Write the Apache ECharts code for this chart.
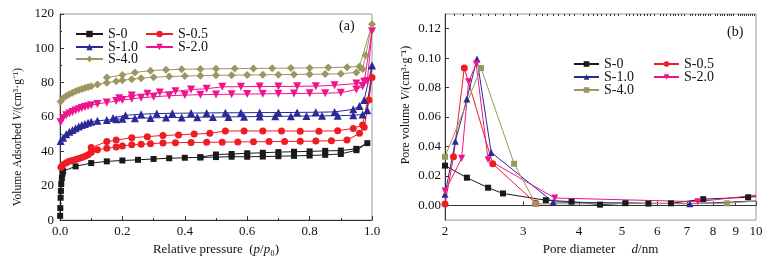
<!DOCTYPE html>
<html>
<head>
<meta charset="utf-8">
<script src="https://cdn.jsdelivr.net/npm/echarts@6/dist/echarts.min.js"></script>
<style>
html,body{margin:0;padding:0;background:#fff}
#chart{width:775px;height:261px}
</style>
</head>
<body>
<div id="chart"></div>
<script>
// (a) N2 isotherms: relative pressure -> volume adsorbed (adsorption then desorption branch)
var names = ['S-0', 'S-0.5', 'S-1.0', 'S-2.0', 'S-4.0']
var colors = ['#1a1a1a', '#f01c24', '#2a2a96', '#f0148c', '#9c9660']

var pS0 = [0.0005,0.001,0.002,0.003,0.004,0.006,0.008,0.01,0.05,0.1,0.15,0.2,0.25,0.3,0.35,0.4,0.45,0.5,0.55,0.6,0.65,0.7,0.75,0.8,0.85,0.9,0.95,0.985,
  0.95,0.9,0.85,0.8,0.75,0.7,0.65,0.6,0.55,0.5,0.45]
var vS0 = [2.5,7,13,17,21,24.5,27,28.5,31.3,33.2,34.2,34.7,35.1,35.6,36,36.3,36.5,36.7,36.9,36.9,37,37.2,37.4,37.6,38,38.5,40.7,44.8,
  41.5,40.5,40.3,40,39.8,39.6,39.2,38.9,38.5,38.2,36.6]

var pS05 = [0.003,0.01,0.02,0.03,0.04,0.05,0.06,0.07,0.08,0.09,0.1,0.12,0.15,0.18,0.2,0.23,0.26,0.29,0.33,0.37,0.42,0.47,0.52,0.57,0.62,0.67,0.72,0.77,0.82,0.87,0.92,0.96,0.975,0.99,1.0,
  0.97,0.94,0.89,0.83,0.77,0.71,0.65,0.59,0.53,0.48,0.43,0.38,0.33,0.28,0.23,0.18,0.15,0.1]
var vS05 = [30.7,32.2,33.4,34.2,34.7,35.3,35.9,36.5,37.2,38,39.3,40.9,41.8,42.6,43.2,43.8,44.1,44.5,44.9,45.1,45.2,45.3,45.4,45.5,45.6,45.7,45.8,45.9,46,46.2,46.6,50.5,54,70,83,
  55.3,53.4,52,51.8,51.8,51.9,51.9,51.9,51.9,50.5,50.1,49.6,49.3,48.6,48,46.6,45.7,42.2]

var pS10 = [0.002,0.01,0.02,0.03,0.04,0.05,0.06,0.07,0.08,0.09,0.1,0.12,0.15,0.18,0.2,0.24,0.29,0.34,0.39,0.44,0.49,0.54,0.59,0.64,0.69,0.74,0.79,0.84,0.89,0.94,0.97,0.985,1.0,
  0.975,0.96,0.94,0.88,0.82,0.76,0.7,0.64,0.58,0.53,0.47,0.42,0.36,0.31,0.26,0.21,0.17]
var vS10 = [46,48,50,51.5,52.5,53.5,54.5,55.3,56,56.7,57.3,57.8,58.3,58.7,59,59.3,59.5,59.7,59.8,59.9,60,60.1,60.2,60.3,60.4,60.5,60.6,60.7,60.8,61,61.5,64,90,
  70,66.5,64.5,63,62.8,62.7,62.6,62.6,62.5,62.5,62.4,62.3,62.2,62,61.7,61,59.5]

var pS20 = [0.002,0.01,0.02,0.03,0.04,0.05,0.06,0.07,0.08,0.09,0.1,0.12,0.15,0.18,0.2,0.23,0.26,0.3,0.35,0.4,0.45,0.5,0.55,0.6,0.65,0.7,0.75,0.8,0.85,0.9,0.95,0.97,0.985,1.0,
  0.975,0.95,0.88,0.82,0.76,0.7,0.64,0.58,0.52,0.47,0.42,0.37,0.32,0.28,0.23,0.19]
var vS20 = [57,59.5,61,62,63,63.8,64.5,65.2,65.8,66.3,66.8,67.6,68.5,69.3,70,70.6,71.2,71.8,72.4,72.8,73,73.2,73.3,73.4,73.5,73.6,73.7,73.8,73.9,74.2,76,78,81,110,
  80.5,79.5,78.5,78,77.9,77.8,77.8,77.7,77.6,76.5,76,75,74.3,73.5,72.5,71]

var pS40 = [0.002,0.01,0.02,0.03,0.04,0.05,0.06,0.07,0.08,0.09,0.1,0.12,0.15,0.18,0.2,0.23,0.26,0.3,0.35,0.4,0.45,0.5,0.55,0.6,0.65,0.7,0.75,0.8,0.85,0.9,0.95,0.97,0.98,1.0,
  0.96,0.92,0.86,0.8,0.74,0.68,0.62,0.56,0.5,0.45,0.39,0.34,0.29,0.24,0.2,0.15]
var vS40 = [69,71,72.3,73.3,74.2,75,75.7,76.3,76.9,77.5,78,79,80,80.8,81.4,82,82.6,83.2,83.6,83.9,84.1,84.3,84.4,84.5,84.6,84.7,84.8,84.9,85,85.2,86,88,96,114,
  89.5,89,88.8,88.6,88.5,88.4,88.3,88.2,88.1,88,87.8,87.5,87,86,84.5,83]

// (b) pore size distribution: pore diameter (nm) -> pore volume
var dS0 = [2.0,2.24,2.5,2.7,3.37,3.85,4.46,5.09,5.73,6.44,7.61,9.6,10]
var wS0 = [0.027,0.0188,0.012,0.0081,0.0035,0.0025,0.0005,0.0015,0.0012,0.0014,0.0042,0.0055,0.006]
var dS05 = [2.0,2.09,2.21,2.56,3.2]
var wS05 = [0.001,0.033,0.0933,0.0283,0.0015]
var dS10 = [2.0,2.11,2.24,2.36,2.54,3.5,7.1,10]
var wS10 = [0.0075,0.0436,0.0723,0.0995,0.036,0.0023,0.0011,0.003]
var dS20 = [2.0,2.18,2.26,2.35,2.5,3.53,7.4,10]
var wS20 = [0.0097,0.032,0.084,0.096,0.031,0.005,0.0025,0.007]
var dS40 = [2.0,2.41,2.86,3.2,8.6,10]
var wS40 = [0.033,0.0933,0.0283,0.001,0.0014,0.003]

var xTicksB = [2,3,4,5,6,7,8,9,10]
var yTicksB = [0,0.02,0.04,0.06,0.08,0.10,0.12]

var isoP = [pS0, pS05, pS10, pS20, pS40]
var isoV = [vS0, vS05, vS10, vS20, vS40]
var psdD = [dS0, dS05, dS10, dS20, dS40]
var psdW = [wS0, wS05, wS10, wS20, wS40]
var symA = [['rect',6,0],['circle',7,0],['triangle',8,0],['triangle',8,180],['diamond',8,0]]
var symB = [['rect',6,0],['circle',7,0],['triangle',7,0],['triangle',7,180],['rect',6,0]]

var minorB = []
for (var a = 2; a < 10; a++) {
  for (var b = 1; b < 10; b++) minorB.push(Math.log10(a + b / 10))
}

var font = 'Liberation Serif'
var series = []
names.forEach(function (n, i) {
  series.push({
    name: n, type: 'line', xAxisIndex: 0, yAxisIndex: 0,
    symbol: symA[i][0], symbolSize: symA[i][1], symbolRotate: symA[i][2],
    lineStyle: {width: 1, color: colors[i]}, itemStyle: {color: colors[i]},
    data: isoP[i].map(function (x, k) { return [x, isoV[i][k]] })
  })
  series.push({
    name: n + ' ', type: 'line', xAxisIndex: 1, yAxisIndex: 1,
    symbol: symB[i][0], symbolSize: symB[i][1], symbolRotate: symB[i][2],
    lineStyle: {width: 1, color: colors[i]}, itemStyle: {color: colors[i]},
    // the last point sits on the right frame, only the line runs to it
    data: psdD[i].map(function (x, k) {
      var it = {value: [Math.log10(x), psdW[i][k]]}
      if (x >= 10) it.symbol = 'none'
      return it
    })
  })
})

var legA = [[70,22],[140,22],[70,35],[140,35],[70,47]]
var legB = [[568,52],[648,52],[568,65],[648,65],[568,78]]
var legends = []
names.forEach(function (n, i) {
  legends.push({data: [n], left: legA[i][0], top: legA[i][1], itemWidth: 27, itemHeight: 8, itemGap: 4,
    selectedMode: false, textStyle: {fontFamily: font, fontSize: 14, color: '#111'}})
  legends.push({data: [n + ' '], left: legB[i][0], top: legB[i][1], itemWidth: 25, itemHeight: 7,
    selectedMode: false, textStyle: {fontFamily: font, fontSize: 14, color: '#111'}})
})

var axisLine = {lineStyle: {color: '#333', width: 1}}
var lblStyle = {fontFamily: font, fontSize: 13, color: '#111'}
var italic = {fontFamily: font, fontStyle: 'italic'}

var option = {
  animation: false,
  backgroundColor: '#fff',
  grid: [
    {left: 60, top: 14, width: 312, height: 209, show: true, borderColor: '#999', borderWidth: 1},
    {left: 445, top: 14, width: 311, height: 208, show: true, borderColor: '#999', borderWidth: 1}
  ],
  legend: legends,
  xAxis: [
    {type: 'value', gridIndex: 0, min: 0, max: 1, interval: 0.2,
      axisLine: axisLine, splitLine: {show: false},
      axisTick: {inside: true, length: 4, lineStyle: {color: '#333'}},
      minorTick: {show: true, splitNumber: 2, length: 2, lineStyle: {color: '#333'}},
      axisLabel: Object.assign({margin: 5, formatter: function (v) { return v.toFixed(1) }}, lblStyle),
      name: 'Relative pressure  ({i|p}/{i|p}\u2080)', nameLocation: 'middle', nameGap: 22,
      nameTextStyle: {fontFamily: font, fontSize: 13, color: '#111',
        rich: {i: Object.assign({fontSize: 13, color: '#111'}, italic)}}},
    {type: 'value', gridIndex: 1, min: Math.log10(2), max: 1,
      axisLine: axisLine, splitLine: {show: false},
      axisTick: {inside: true, length: 4, customValues: xTicksB.map(Math.log10), lineStyle: {color: '#333'}},
      axisLabel: Object.assign({margin: 5, customValues: xTicksB.map(Math.log10),
        formatter: function (v) { return String(Math.round(Math.pow(10, v))) }}, lblStyle),
      name: 'Pore diameter     {i|d}/nm', nameLocation: 'middle', nameGap: 22,
      nameTextStyle: {fontFamily: font, fontSize: 13, color: '#111',
        rich: {i: Object.assign({fontSize: 13, color: '#111'}, italic)}}},
    {type: 'value', gridIndex: 1, min: Math.log10(2), max: 1,
      axisLine: {show: false}, splitLine: {show: false}, axisLabel: {show: false},
      axisTick: {inside: true, length: 2, customValues: minorB, lineStyle: {color: '#333'}}}
  ],
  yAxis: [
    {type: 'value', gridIndex: 0, min: 0, max: 120, interval: 20,
      axisLine: axisLine, splitLine: {show: false},
      axisTick: {inside: true, length: 4, lineStyle: {color: '#333'}},
      minorTick: {show: true, splitNumber: 2, length: 2, lineStyle: {color: '#333'}},
      axisLabel: Object.assign({margin: 6}, lblStyle),
      name: 'Volume Adsorbed {i|V}/(cm\u00b3\u00b7g\u207b\u00b9)', nameLocation: 'middle', nameGap: 36,
      nameTextStyle: {fontFamily: font, fontSize: 11.5, color: '#111', padding: [0, 40, 0, 0],
        rich: {i: Object.assign({fontSize: 11.5, color: '#111'}, italic)}}},
    {type: 'value', gridIndex: 1, min: -0.01, max: 0.13,
      axisLine: axisLine, splitLine: {show: false},
      axisTick: {inside: true, length: 4, customValues: yTicksB, lineStyle: {color: '#333'}},
      axisLabel: Object.assign({margin: 4, customValues: yTicksB,
        formatter: function (v) { return v.toFixed(2) }}, lblStyle),
      name: 'Pore volume {i|V}/(cm\u00b3\u00b7g\u207b\u00b9)', nameLocation: 'middle', nameGap: 33,
      nameTextStyle: {fontFamily: font, fontSize: 12, color: '#111', padding: [0, 0, 0, 24],
        rich: {i: Object.assign({fontSize: 12, color: '#111'}, italic)}}}
  ],
  graphic: [
    {type: 'text', left: 339, top: 19, style: {text: '(a)', font: '14px "Liberation Serif"', fill: '#111'}},
    {type: 'text', left: 727, top: 25, style: {text: '(b)', font: '14px "Liberation Serif"', fill: '#111'}}
  ],
  series: series
}

var chart = echarts.init(document.getElementById('chart'), null, {renderer: 'canvas'})
chart.setOption(option)
</script>
</body>
</html>
